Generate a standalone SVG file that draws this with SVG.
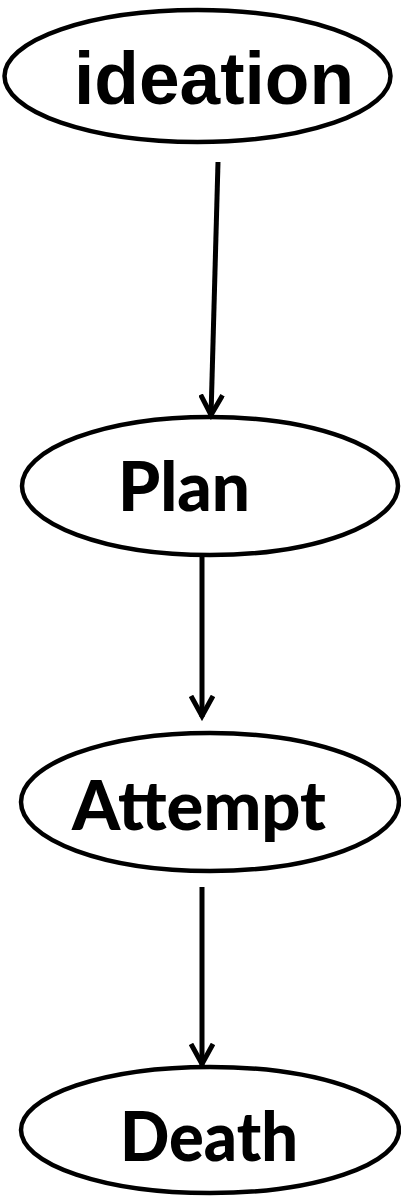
<svg xmlns="http://www.w3.org/2000/svg" width="401" height="1202" viewBox="0 0 401 1202">
<style>
.node ellipse{fill:#fff;stroke:#000;stroke-width:4.5}
.lbl{font-family:"Lato","Open Sans",sans-serif;font-weight:900;font-size:68px;fill:#000;text-anchor:middle}
.lbl1{font-family:"Liberation Sans",Arial,sans-serif;font-weight:bold;font-size:74px;fill:#000;text-anchor:middle}
.edge{stroke:#000;stroke-width:5;fill:none}
</style>
<defs>
<marker id="arr" viewBox="0 0 26 26" markerWidth="26" markerHeight="26" refX="22" refY="13" orient="auto" markerUnits="userSpaceOnUse">
<path d="M1,2 L21,13 L1,24" fill="none" stroke="#000" stroke-width="5"/>
</marker>
</defs>
<g id="n-ideation" class="node">
<ellipse cx="197.5" cy="76" rx="193" ry="66"/>
<text class="lbl1" x="214" y="104" textLength="280" lengthAdjust="spacingAndGlyphs">ideation</text>
</g>
<g id="n-plan" class="node">
<ellipse cx="210" cy="486" rx="188" ry="69"/>
<text class="lbl" x="184" y="511" textLength="132" lengthAdjust="spacingAndGlyphs">Plan</text>
</g>
<g id="n-attempt" class="node">
<ellipse cx="210" cy="802" rx="189" ry="69"/>
<text class="lbl" x="199" y="830" textLength="254" lengthAdjust="spacingAndGlyphs">Attempt</text>
</g>
<g id="n-death" class="node">
<ellipse cx="210" cy="1130" rx="189" ry="63"/>
<text class="lbl" x="209" y="1161" textLength="178" lengthAdjust="spacingAndGlyphs">Death</text>
</g>
<g id="edges">
<line class="edge" x1="218" y1="162" x2="211" y2="416" marker-end="url(#arr)"/>
<line class="edge" x1="202" y1="557" x2="202" y2="717" marker-end="url(#arr)"/>
<line class="edge" x1="202" y1="887" x2="202" y2="1065" marker-end="url(#arr)"/>
</g>
</svg>
